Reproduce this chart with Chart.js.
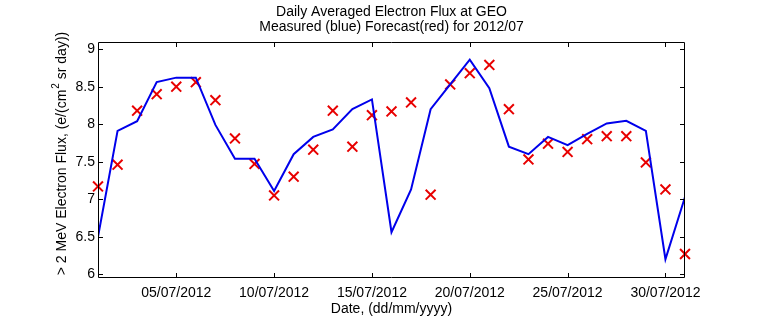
<!DOCTYPE html>
<html>
<head>
<meta charset="utf-8">
<script src="https://cdn.jsdelivr.net/npm/chart.js@4"></script>
<style>
body{margin:0;background:#fff}
</style>
</head>
<body>
<canvas id="fluxChart" width="757" height="324"></canvas>
<script>
// day of month, July 2012
const days=[1,2,3,4,5,6,7,8,9,10,11,12,13,14,15,16,17,18,19,20,21,22,23,24,25,26,27,28,29,30,31];
// measured (blue line)
const measured=[6.50,7.91,8.04,8.56,8.62,8.62,7.99,7.54,7.54,7.11,7.60,7.83,7.93,8.20,8.33,6.56,7.13,8.20,8.53,8.86,8.48,7.70,7.60,7.83,7.72,7.87,8.01,8.045,7.91,6.20,7.03];
// forecast (red crosses)
const forecast=[7.17,7.46,8.18,8.40,8.50,8.56,8.32,7.81,7.47,7.05,7.30,7.66,8.18,7.70,8.12,8.17,8.29,7.06,8.53,8.68,8.79,8.20,7.53,7.74,7.63,7.80,7.84,7.84,7.49,7.13,6.27];
const xTicks=[5,10,15,20,25,30];
const yTicks=[6,6.5,7,7.5,8,8.5,9];
const titleLines=['Daily Averaged Electron Flux at GEO','Measured (blue) Forecast(red) for 2012/07'];
const xTitle='Date, (dd/mm/yyyy)';
const yTitleParts=['> 2 MeV Electron Flux, (e/(cm','2',' sr day))'];

const FONT='"Liberation Sans", Arial, sans-serif';

function dateLabel(d){
    return (d<10?'0'+d:''+d)+'/07/2012';
}

// box, inward ticks and texts like the matlab figure
const frame={
    id:'frame',
    afterDraw(chart){
        const c=chart.ctx, a=chart.chartArea;
        const xs=chart.scales.x, ys=chart.scales.y;
        const tl=5;
        c.save();
        c.strokeStyle='#000';
        c.lineWidth=1;
        c.beginPath();
        c.rect(a.left+0.5,a.top+0.5,a.right-a.left-1,a.bottom-a.top-1);
        xTicks.forEach(v=>{
            let px=Math.round(xs.getPixelForValue(v))+0.5;
            c.moveTo(px,a.bottom);c.lineTo(px,a.bottom-tl);
            c.moveTo(px,a.top);c.lineTo(px,a.top+tl);
        });
        yTicks.forEach(v=>{
            let py=Math.round(ys.getPixelForValue(v))+0.5;
            c.moveTo(a.left,py);c.lineTo(a.left+tl,py);
            c.moveTo(a.right,py);c.lineTo(a.right-tl,py);
        });
        c.stroke();

        c.fillStyle='#000';
        c.font='14px '+FONT;
        c.textAlign='center';
        c.textBaseline='alphabetic';
        let cx=(a.left+a.right)/2;
        c.fillText(titleLines[0],cx,16);
        c.fillText(titleLines[1],cx,31);
        c.fillText(xTitle,cx,313);

        // y title with superscript
        c.translate(66,154);
        c.rotate(-Math.PI/2);
        c.textAlign='left';
        c.font='14px '+FONT;
        let w0=c.measureText(yTitleParts[0]).width;
        let w2=c.measureText(yTitleParts[2]).width;
        c.font='10px '+FONT;
        let w1=c.measureText(yTitleParts[1]).width;
        let x0=-(w0+w1+w2)/2;
        c.font='14px '+FONT;
        c.fillText(yTitleParts[0],x0,0);
        c.font='10px '+FONT;
        c.fillText(yTitleParts[1],x0+w0+1,-7);
        c.font='14px '+FONT;
        c.fillText(yTitleParts[2],x0+w0+w1+1,0);
        c.restore();
    }
};

new Chart(document.getElementById('fluxChart'),{
    type:'line',
    data:{
        datasets:[{
            data:days.map((d,i)=>({x:d,y:measured[i]})),
            borderColor:'rgb(0,0,235)',
            borderWidth:2,
            pointRadius:0,
            tension:0,
            fill:false
        },{
            data:days.map((d,i)=>({x:d,y:forecast[i]})),
            showLine:false,
            pointStyle:'crossRot',
            pointRadius:7,
            pointBorderWidth:2,
            borderColor:'rgb(232,0,0)',
            backgroundColor:'rgb(232,0,0)',
            clip:false
        }]
    },
    plugins:[frame],
    options:{
        responsive:false,
        animation:false,
        devicePixelRatio:1,
        layout:{padding:{left:0,right:72,top:42,bottom:0}},
        plugins:{legend:{display:false},title:{display:false},tooltip:{enabled:false}},
        scales:{
            x:{
                type:'linear',min:1,max:31,
                afterBuildTicks:s=>{s.ticks=xTicks.map(v=>({value:v}))},
                afterFit:s=>{s.height=46},
                grid:{display:false,drawTicks:false},
                border:{display:false},
                ticks:{callback:v=>dateLabel(v),font:{size:14,family:FONT},color:'#000',padding:7,maxRotation:0,autoSkip:false}
            },
            y:{
                min:5.95,max:9.095,
                afterBuildTicks:s=>{s.ticks=yTicks.map(v=>({value:v}))},
                afterFit:s=>{s.width=98},
                grid:{display:false,drawTicks:false},
                border:{display:false},
                ticks:{callback:v=>String(v),font:{size:14,family:FONT},color:'#000',padding:3}
            }
        }
    }
});
</script>
</body>
</html>
